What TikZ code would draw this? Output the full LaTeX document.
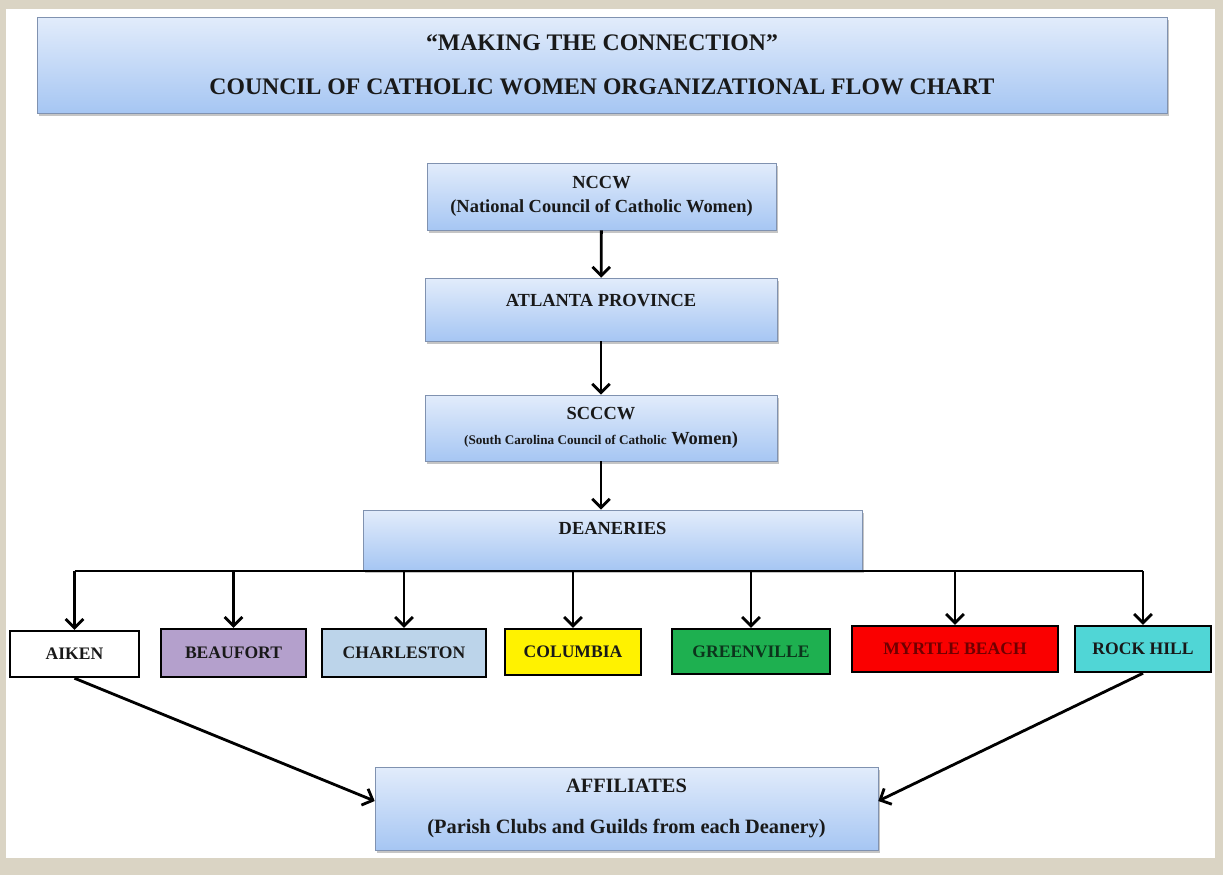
\documentclass[tikz,border=0pt]{standalone}
\usepackage{fontspec}
\setmainfont{Liberation Serif}
\usepackage{xcolor}
\usepackage{tikz}
\usetikzlibrary{arrows.meta, shadows}
\tikzset{>={Straight Barb[length=5pt,width=10pt]}}
\definecolor{frame}{RGB}{218,212,196}
\definecolor{boxline}{RGB}{128,146,176}
\definecolor{boxtop}{RGB}{226,236,251}
\definecolor{boxbot}{RGB}{166,198,243}
\definecolor{ink}{RGB}{25,25,25}
\definecolor{beaufortfill}{RGB}{180,160,204}
\definecolor{charlestonfill}{RGB}{188,212,234}
\definecolor{columbiafill}{RGB}{255,242,0}
\definecolor{greenvillefill}{RGB}{30,176,80}
\definecolor{greenvilleink}{RGB}{12,52,28}
\definecolor{myrtlefill}{RGB}{250,0,0}
\definecolor{myrtleink}{RGB}{110,0,0}
\definecolor{rockhillfill}{RGB}{80,214,214}
\tikzset{
  bluebox/.style={draw=boxline, top color=boxtop, bottom color=boxbot,
    drop shadow={shadow xshift=1.2pt, shadow yshift=-1.5pt, fill=black!45},
    text=ink, font=\bfseries\fontsize{10.5}{14}\selectfont, align=center, inner sep=2pt},
  deanbox/.style={draw=black, line width=1.4pt, fill=#1, text=ink,
    font=\bfseries\fontsize{10}{12}\selectfont, minimum height=0.92cm, inner sep=2pt},
  arr/.style={->, line width=1.6pt, black}
}

\begin{document}
\begin{tikzpicture}[x=0.02cm, y=-0.02cm]
    \useasboundingbox (0,0) rectangle (1223,875);
    \fill[frame] (0,0) rectangle (1223,875);
    \fill[white] (6,9) rectangle (1215,858);
 %   title
    \node[bluebox, minimum width=22.6cm, minimum height=1.92cm,
      font=\bfseries\fontsize{13.5}{16}\selectfont] (title) at (602,65)
      {``MAKING THE CONNECTION''\\[0.32cm] COUNCIL OF CATHOLIC WOMEN ORGANIZATIONAL FLOW CHART};
    \node[bluebox, minimum width=6.98cm, minimum height=1.34cm] (nccw) at (601.5,196.5)
      {NCCW\\(National Council of Catholic Women)};
    \node[bluebox, minimum width=7.04cm, minimum height=1.26cm, text depth=0.35cm] (atlanta) at (601,309.5)
      {ATLANTA PROVINCE};
    \node[bluebox, minimum width=7.04cm, minimum height=1.32cm] (scccw) at (601,428)
      {SCCCW\\{\fontsize{7.5}{9}\selectfont (South Carolina Council of Catholic} Women)};
    \node[bluebox, minimum width=9.98cm, minimum height=1.2cm, text depth=0.45cm] (deaneries) at (612.5,540)
      {DEANERIES};
    \draw[arr] (nccw) -- (atlanta);
    \draw[arr] (atlanta) -- (scccw);
    \draw[arr] (scccw.south) -- (scccw.south |- deaneries.north);
 %   deaneries
    \node[deanbox=white, minimum width=2.58cm] (aiken) at (74.5,654) {AIKEN};
    \node[deanbox=beaufortfill, minimum width=2.9cm, minimum height=0.96cm] (beaufort) at (233.5,653) {BEAUFORT};
    \node[deanbox=charlestonfill, minimum width=3.28cm, minimum height=0.96cm] (charleston) at (404,653) {CHARLESTON};
    \node[deanbox=columbiafill, minimum width=2.72cm] (columbia) at (573,652) {COLUMBIA};
    \node[deanbox=greenvillefill, minimum width=3.16cm, minimum height=0.9cm, text=greenvilleink] (greenville) at (751,651.5) {GREENVILLE};
    \node[deanbox=myrtlefill, minimum width=4.12cm, text=myrtleink] (myrtle) at (955,649) {MYRTLE BEACH};
    \node[deanbox=rockhillfill, minimum width=2.72cm] (rockhill) at (1143,649) {ROCK HILL};
    \coordinate (bus) at (0,571);
    \draw[line width=1.6pt] (aiken.north |- bus) -- (rockhill.north |- bus);
    \foreach \d in {aiken,beaufort,charleston,columbia,greenville,myrtle,rockhill}
      \draw[arr] (\d.north |- bus) -- (\d.north);
 %   affiliates
    \node[bluebox, minimum width=10.06cm, minimum height=1.66cm, font=\bfseries\fontsize{11.6}{14}\selectfont] (affiliates) at (626.5,808.5)
      {AFFILIATES\\[0.32cm](Parish Clubs and Guilds from each Deanery)};
    \draw[arr] (aiken.south) -- ([yshift=0.15cm]affiliates.west);
    \draw[arr] (rockhill.south) -- ([yshift=0.15cm]affiliates.east);
\end{tikzpicture}
\end{document}
